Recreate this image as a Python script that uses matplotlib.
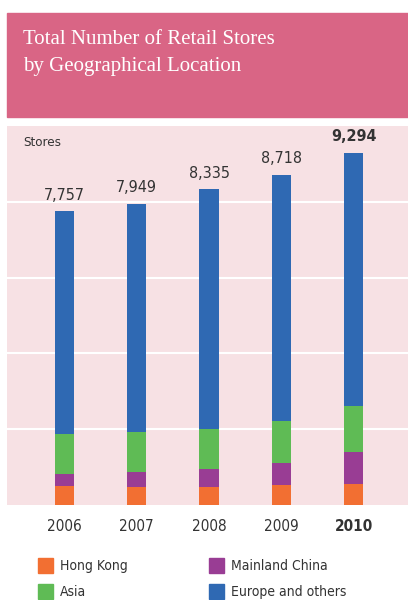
import matplotlib
matplotlib.use("Agg")
from matplotlib import pyplot as plt
from matplotlib.patches import Rectangle
from matplotlib import font_manager

# data
years = ["2006", "2007", "2008", "2009", "2010"]
hong_kong = [500, 475, 475, 530, 555]
mainland_china = [320, 395, 475, 580, 845]
asia = [1055, 1055, 1055, 1110, 1215]
totals = [7757, 7949, 8335, 8718, 9294]
europe_others = [t - h - m - a for t, h, m, a in zip(totals, hong_kong, mainland_china, asia)]

series = [
    ("Hong Kong", hong_kong, "#f26f32"),
    ("Mainland China", mainland_china, "#993d94"),
    ("Asia", asia, "#5fbb55"),
    ("Europe and others", europe_others, "#2f69b3"),
]

# look for a condensed sans among installed fonts
fonts = font_manager.fontManager.ttflist
cond = [f for f in fonts if f.name == "DejaVu Sans" and f.stretch == "condensed"]
plt.rcParams["font.family"] = ["DejaVu Sans"]
if cond:
    plt.rcParams["font.stretch"] = "condensed"
    sz = 1.0
else:
    sz = 0.85

W, H = 408, 600
fig = plt.figure(figsize=(W / 100, H / 100), dpi=100)
text_col = "#333333"


def fx(px):
    return px / W


def fy(py):
    return 1 - py / H


# title box
fig.patches.append(Rectangle((fx(7), fy(117)), fx(401), 104 / H,
                             transform=fig.transFigure, color="#d96585", zorder=0))
fig.text(fx(23), fy(40), "Total Number of Retail Stores", color="white",
         fontsize=15, family="Liberation Serif", stretch="normal", va="center")
fig.text(fx(23), fy(67), "by Geographical Location", color="white",
         fontsize=15, family="Liberation Serif", stretch="normal", va="center")

# chart panel
ax = fig.add_axes([fx(7), fy(505), fx(401), (505 - 126) / H])
ax.set_facecolor("#f7e1e4")
for s in ax.spines.values():
    s.set_visible(False)

x = range(len(years))
bottom = [0] * len(years)
for name, vals, col in series:
    ax.bar(x, vals, width=0.265, bottom=bottom, color=col, zorder=3, label=name)
    bottom = [b + v for b, v in zip(bottom, vals)]

ax.set_xlim(-0.796, 4.754)
ax.set_ylim(0, 10000)
ax.set_yticks([2000, 4000, 6000, 8000])
ax.yaxis.grid(True, color="white", linewidth=1.5, zorder=1)
ax.tick_params(axis="y", left=False, labelleft=False)
ax.set_xticks(list(x))
ax.set_xticklabels(years, fontsize=11 * sz, color=text_col)
ax.get_xticklabels()[-1].set_fontweight("bold")
ax.tick_params(axis="x", length=0, pad=10)

for i, t in enumerate(totals):
    ax.annotate(f"{t:,}", (i, t), xytext=(0, 6), textcoords="offset points",
                ha="center", va="bottom", fontsize=11.5 * sz, color=text_col,
                fontweight="bold" if i == len(totals) - 1 else "normal")

fig.text(fx(23), fy(142), "Stores", fontsize=9.5 * sz, color=text_col, va="center")

# legend
legend_pos = [(38, 558), (209, 558), (38, 584), (209, 584)]
for (name, vals, col), (lx, ly) in zip(series, legend_pos):
    fig.patches.append(Rectangle((fx(lx), fy(ly + 15)), fx(15), 15 / H,
                                 transform=fig.transFigure, color=col))
    fig.text(fx(lx + 22), fy(ly + 8), name, fontsize=10 * sz, color=text_col, va="center")

fig.savefig("out.png", dpi=100)
